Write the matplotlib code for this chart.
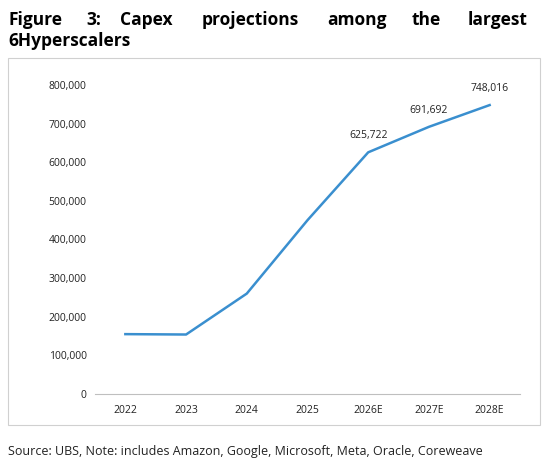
import matplotlib.pyplot as plt
from matplotlib.patches import Rectangle

years = ['2022', '2023', '2024', '2025', '2026E', '2027E', '2028E']
capex = [155000, 154000, 260000, 450000, 625722, 691692, 748016]
labelled = [4, 5, 6]

plt.rcParams['font.family'] = ['Open Sans', 'DejaVu Sans']

fig = plt.figure(figsize=(5.44, 4.71), dpi=100)

# title, spread across the width like justified text
title_words = [('Figure', 8), ('3:', 86), ('Capex', 120), ('projections', 202),
               ('among', 327), ('the', 412), ('largest', 468)]
for word, x in title_words:
    fig.text(x / 544, 1 - 20 / 471, word, fontsize=12.5, fontweight='bold', va='center')
fig.text(8 / 544, 1 - 41 / 471, '6Hyperscalers', fontsize=12.5, fontweight='bold', va='center')

fig.patches.append(Rectangle((8 / 544, 1 - 425 / 471), 532 / 544, 367 / 471,
                             transform=fig.transFigure, fill=False,
                             edgecolor='#d0d0d0', linewidth=0.8))

ax = fig.add_axes([95 / 544, 1 - 394 / 471, 425 / 544, 309 / 471])
x = range(len(years))
ax.plot(x, capex, color='#3a8fcf', linewidth=1.8)
for i in labelled:
    ax.annotate(f'{capex[i]:,}', (i, capex[i]), xytext=(0, 8), textcoords='offset points',
                ha='center', va='bottom', fontsize=7.5, color='#222222')

ax.set_xlim(-0.5, len(years) - 0.5)
ax.set_ylim(0, 800000)
ax.set_yticks(range(0, 800001, 100000))
ax.set_yticklabels([f'{v:,}' for v in range(0, 800001, 100000)])
ax.set_xticks(list(x))
ax.set_xticklabels(years)
for s in ['top', 'right', 'left']:
    ax.spines[s].set_visible(False)
ax.spines['bottom'].set_color('#bfbfbf')
ax.tick_params(axis='both', length=0, labelsize=7.5, colors='#222222')
ax.tick_params(axis='x', pad=8)
ax.tick_params(axis='y', pad=6)

fig.text(8 / 544, 1 - 452 / 471,
         'Source: UBS, Note: includes Amazon, Google, Microsoft, Meta, Oracle, Coreweave',
         fontsize=9, va='center', color='#222222')

fig.savefig('out.png', dpi=100)
